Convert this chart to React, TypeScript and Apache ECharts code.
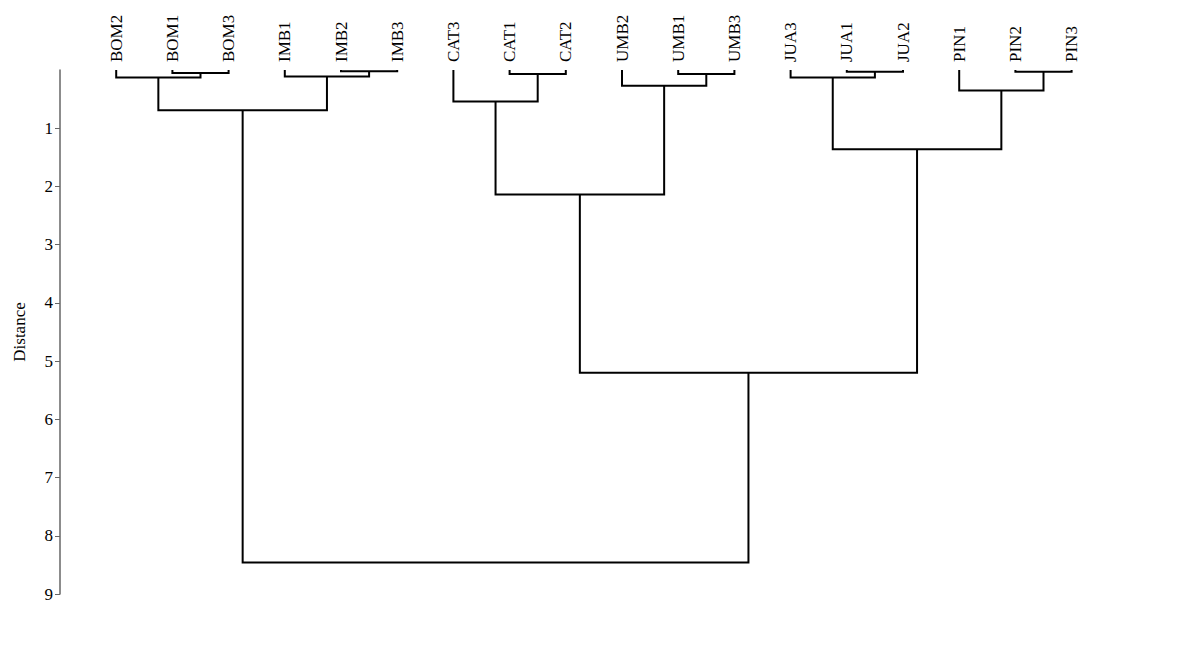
import React, { useEffect, useRef } from "react";
import * as echarts from "echarts";

// Leaf order along the horizontal axis
const leaves = [
  "BOM2", "BOM1", "BOM3", "IMB1", "IMB2", "IMB3",
  "CAT3", "CAT1", "CAT2", "UMB2", "UMB1", "UMB3",
  "JUA3", "JUA1", "JUA2", "PIN1", "PIN2", "PIN3",
];

// Merges: node "m<i>" joins mergeA[i] and mergeB[i] at mergeHeight[i]
const mergeA = ["BOM1", "BOM2", "IMB2", "IMB1", "m1", "CAT1", "CAT3", "UMB1", "UMB2", "m6", "JUA1", "JUA3", "PIN2", "PIN1", "m11", "m9", "m4"];
const mergeB = ["BOM3", "m0", "IMB3", "m2", "m3", "CAT2", "m5", "UMB3", "m7", "m8", "JUA2", "m10", "PIN3", "m12", "m13", "m14", "m15"];
const mergeHeight = [0.05, 0.13, 0.02, 0.11, 0.69, 0.07, 0.54, 0.07, 0.27, 2.14, 0.03, 0.13, 0.03, 0.35, 1.36, 5.2, 8.46];

// Distance axis ticks
const distanceTicks = [1, 2, 3, 4, 5, 6, 7, 8, 9];

const FONT = "'Liberation Serif', 'Times New Roman', serif";

function buildLinks() {
  const pos: Record<string, [number, number]> = {};
  leaves.forEach((name, i) => {
    pos[name] = [i, 0];
  });
  const links: number[][] = [];
  mergeA.forEach((a, i) => {
    const b = mergeB[i];
    const h = mergeHeight[i];
    const [xa, ha] = pos[a];
    const [xb, hb] = pos[b];
    links.push([xa, ha, xb, hb, h]);
    pos["m" + i] = [(xa + xb) / 2, h];
  });
  return links;
}

export default function App() {
  const ref = useRef<HTMLDivElement>(null);

  useEffect(() => {
    if (!ref.current) return;
    const chart = echarts.init(ref.current, null, { renderer: "svg" });
    const links = buildLinks();
    chart.setOption({
      animation: false,
      backgroundColor: "#ffffff",
      grid: { left: 60, top: 70, bottom: 71, right: 3 },
      xAxis: {
        type: "value",
        position: "top",
        min: -1,
        max: 19,
        interval: 1,
        axisLine: { show: false },
        axisTick: { show: false },
        splitLine: { show: false },
        axisLabel: {
          rotate: 90,
          margin: 8,
          color: "#000",
          fontFamily: FONT,
          fontSize: 17,
          formatter: (v: number) => leaves[Math.round(v)] ?? "",
        },
      },
      yAxis: {
        type: "value",
        inverse: true,
        min: 0,
        max: 9,
        interval: 1,
        position: "left",
        name: "Distance",
        nameLocation: "middle",
        nameRotate: 90,
        nameGap: 32,
        nameTextStyle: { color: "#000", fontFamily: FONT, fontSize: 17 },
        axisLine: { show: true, onZero: false, lineStyle: { color: "#666", width: 1.5 } },
        axisTick: {
          show: true,
          length: 5,
          customValues: distanceTicks,
          lineStyle: { color: "#666", width: 1 },
        },
        splitLine: { show: false },
        axisLabel: {
          margin: 7,
          color: "#000",
          fontFamily: FONT,
          fontSize: 17,
          customValues: distanceTicks,
        },
      },
      series: [
        {
          type: "custom",
          data: links,
          encode: { x: [0, 2], y: [1, 3, 4] },
          renderItem: (params: any, api: any) => {
            const xa = api.value(0);
            const ha = api.value(1);
            const xb = api.value(2);
            const hb = api.value(3);
            const h = api.value(4);
            const pts = [
              api.coord([xa, ha]),
              api.coord([xa, h]),
              api.coord([xb, h]),
              api.coord([xb, hb]),
            ];
            return {
              type: "polyline",
              shape: { points: pts },
              style: { stroke: "#000", lineWidth: 2, fill: "none" },
            };
          },
        },
      ],
    });
    return () => chart.dispose();
  }, []);

  return (
    <div
      ref={ref}
      style={{ position: "fixed", left: 0, top: 0, width: 1187, height: 665, background: "#fff" }}
    />
  );
}
